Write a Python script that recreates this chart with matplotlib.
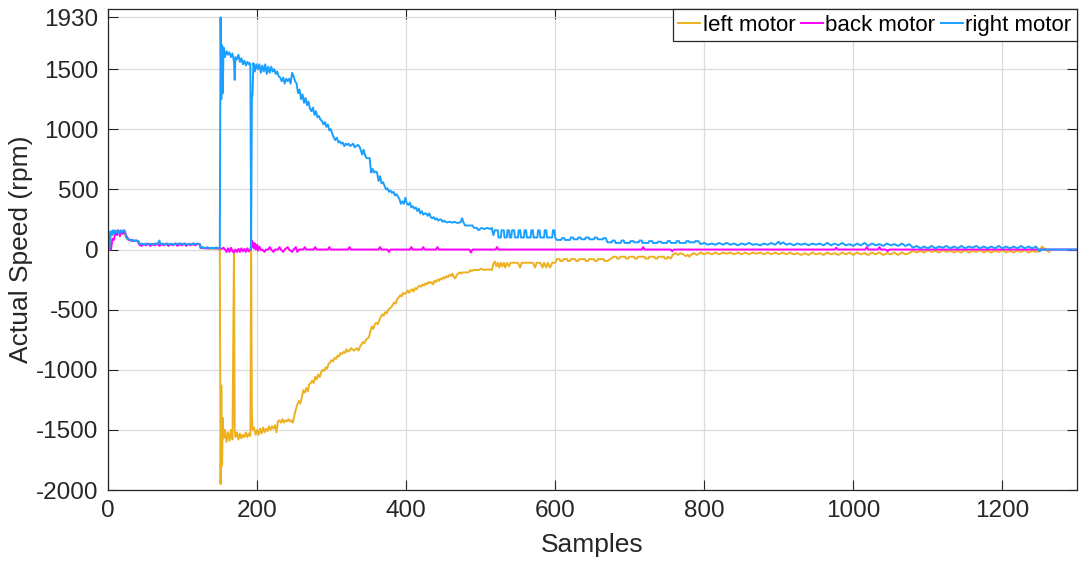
import matplotlib
matplotlib.use("Agg")
import matplotlib.pyplot as plt

plt.rcParams['font.family'] = ['Liberation Sans', 'DejaVu Sans']
plt.rcParams['axes.unicode_minus'] = False

# ---- data (sample, rpm) ----
right_motor = [(0,0),(2,0),(3,150),(5,120),(6,160),(8,130),(9,160),(11,140),(13,160),(15,130),(17,160),(19,145),(21,160),(23,150),(24,110),(26,90),(28,85),(30,75),(33,80),(36,70),(39,75),(41,70),(42,45),(45,50),(48,40),(51,50),(54,42),(57,48),(60,40),(63,50),(66,45),(69,75),(70,45),(73,50),(76,40),(79,50),(82,42),(85,48),(88,40),(91,50),(94,45),(97,52),(100,40),(103,50),(106,42),(109,48),(112,40),(115,50),(118,45),(121,50),(123,45),(124,15),(127,20),(130,10),(133,20),(136,10),(139,15),(142,8),(145,18),(148,10),(150,10),
 (151,1930),(152,1250),(153,1700),(154,1300),(155,1680),(157,1600),(159,1650),(161,1620),(163,1640),(165,1600),(167,1630),(169,1560),(170,1410),(171,1600),(173,1580),(175,1620),(177,1560),(179,1590),(181,1540),(183,1570),(185,1530),(187,1560),(189,1540),(190,1550),(191,1540),(192,0),(193,1250),(194,1300),(195,1550),(197,1480),(199,1540),(201,1500),(203,1540),(205,1470),(207,1530),(209,1480),(211,1540),(213,1460),(215,1520),(217,1470),(219,1520),(221,1480),(223,1500),(225,1460),(227,1480),(229,1440),(231,1430),(233,1400),(235,1430),(237,1380),(239,1420),(241,1400),(243,1420),(245,1380),(247,1470),(249,1440),(251,1400),(253,1380),(255,1300),(257,1330),(259,1250),(261,1290),(263,1220),(265,1260),(267,1200),(269,1230),(271,1170),(273,1150),(275,1180),(277,1120),(279,1150),(281,1100),(283,1110),(285,1080),(287,1070),(289,1040),(291,1060),(293,1020),(295,1040),(297,990),(299,1000),(301,960),(303,930),(305,910),(307,930),(309,890),(311,900),(313,880),(315,890),(317,860),(319,880),(321,870),(323,880),(325,860),(327,870),(329,880),(331,850),(333,860),(335,870),(337,860),(339,830),(341,790),(343,830),(345,780),(347,760),(349,760),(351,760),(353,640),(355,670),(357,640),(359,650),(361,640),(363,570),(365,610),(367,550),(369,560),(371,530),(373,500),(375,510),(377,480),(379,490),(381,470),(383,480),(385,450),(387,460),(389,440),(391,420),(393,380),(395,400),(397,380),(399,430),(401,380),(403,370),(405,390),(407,350),(409,360),(411,340),(413,350),(415,320),(417,340),(419,300),(421,320),(423,290),(425,300),(427,300),(429,280),(431,300),(433,270),(435,260),(437,270),(439,250),(441,260),(443,240),(445,250),(447,250),(449,230),(451,240),(453,230),(455,225),(457,230),(459,230),(461,225),(463,225),(465,230),(467,225),(469,220),(471,225),(473,225),(475,260),(477,225),(479,200),(483,200),(487,200),(489,200),(491,180),(495,180),(497,160),(501,180),(505,170),(509,180),(513,170),(515,180),(517,120),(519,160),(523,160),(524,100),(527,100),(528,160),(531,160),(532,100),(535,100),(536,160),(538,160),(539,100),(541,100),(542,160),(545,160),(546,100),(550,100),(551,160),(553,160),(554,100),(558,100),(559,160),(561,160),(562,100),(567,100),(568,160),(570,160),(571,100),(576,100),(577,160),(579,160),(580,100),(585,100),(586,160),(588,160),(589,100),(596,100),(597,160),(599,160),(600,100),(602,80),(608,80),(609,95),(612,95),(613,80),(620,80),(621,100),(624,100),(625,85),(630,85),(631,100),(634,100),(635,85),(640,85),(641,100),(645,100),(646,85),(652,85),(653,100),(656,100),(657,85),(664,85),(665,95),(668,95),(670,60),(676,60),(677,75),(680,75),(681,55),(688,55),(689,75),(692,75),(693,55),(700,55),(701,70),(705,70),(706,60),(712,60),(713,75),(716,75),(717,55),(725,55),(726,70),(730,70),(731,55),(737,55),(738,65),(742,65),(743,55),(750,55),(751,70),(754,70),(755,55),(762,55),(763,70),(766,70),(767,55),(775,55),(776,70),(779,70),(780,60),(787,60),(788,70),(792,70),(795,45),(800,55),(805,40),(810,50),(815,40),(820,55),(825,40),(830,55),(835,40),(840,50),(845,35),(850,50),(855,40),(860,55),(865,40),(870,45),(875,35),(880,50),(885,40),(890,55),(895,40),(900,65),(902,45),(906,60),(910,40),(915,50),(920,35),(925,50),(930,40),(935,50),(940,35),(945,50),(950,40),(955,50),(960,35),(965,55),(970,35),(975,50),(980,35),(985,55),(990,35),(995,45),(1000,30),(1005,50),(1010,35),(1015,55),(1020,30),(1025,50),(1030,35),(1035,45),(1040,30),(1045,50),(1050,35),(1055,45),(1060,30),(1065,50),(1070,30),(1075,45),(1080,15),(1085,30),(1090,10),(1095,25),(1100,10),(1105,30),(1110,10),(1115,25),(1120,15),(1125,30),(1130,10),(1135,25),(1140,10),(1145,30),(1150,10),(1155,25),(1160,15),(1165,30),(1170,10),(1175,25),(1180,10),(1185,25),(1190,10),(1195,30),(1200,10),(1205,25),(1210,10),(1215,25),(1220,10),(1225,30),(1230,10),(1235,25),(1240,10),(1245,25),(1250,-15),(1252,0),(1300,0)]

left_motor = [(0,0),(2,0),(4,140),(6,120),(8,150),(10,130),(12,155),(14,130),(16,150),(18,135),(20,155),(22,140),(24,100),(27,80),(30,75),(33,70),(36,75),(40,70),(42,45),(46,40),(50,48),(55,40),(60,48),(65,42),(70,48),(75,40),(80,48),(85,42),(90,48),(95,40),(100,48),(105,42),(110,48),(115,40),(120,48),(123,42),(124,10),(130,15),(135,5),(140,12),(145,5),(150,5),
 (151,-1950),(152,-1130),(153,-1800),(154,-1400),(155,-1570),(157,-1500),(159,-1600),(161,-1520),(163,-1590),(165,-1500),(167,-1580),(169,0),(170,-1500),(171,-1560),(173,-1520),(175,-1580),(177,-1530),(179,-1570),(181,-1540),(183,-1560),(185,-1520),(187,-1560),(189,-1530),(191,-1550),(192,0),(193,-1370),(194,-1500),(196,-1480),(198,-1540),(200,-1500),(202,-1540),(204,-1490),(206,-1530),(208,-1480),(210,-1520),(212,-1490),(214,-1510),(216,-1470),(218,-1500),(220,-1470),(222,-1490),(224,-1460),(226,-1520),(228,-1430),(230,-1420),(232,-1440),(234,-1410),(236,-1440),(238,-1420),(240,-1430),(242,-1410),(244,-1430),(246,-1420),(248,-1440),(250,-1380),(252,-1330),(254,-1290),(256,-1260),(258,-1280),(260,-1230),(262,-1170),(264,-1190),(266,-1150),(268,-1180),(270,-1120),(272,-1110),(274,-1090),(276,-1110),(278,-1060),(280,-1080),(282,-1040),(284,-1060),(286,-1020),(288,-1000),(290,-1010),(292,-980),(294,-990),(296,-950),(298,-940),(300,-920),(302,-930),(304,-900),(306,-910),(308,-880),(310,-890),(312,-860),(314,-870),(316,-850),(318,-860),(320,-830),(322,-850),(324,-840),(326,-820),(328,-830),(330,-840),(332,-830),(334,-820),(336,-840),(338,-810),(340,-790),(342,-770),(344,-780),(346,-750),(348,-740),(350,-730),(352,-680),(354,-640),(356,-660),(358,-620),(360,-610),(362,-620),(364,-590),(366,-560),(368,-540),(370,-550),(372,-520),(374,-530),(376,-500),(378,-490),(380,-480),(382,-460),(384,-440),(386,-450),(388,-410),(390,-400),(392,-380),(394,-390),(396,-360),(398,-370),(400,-360),(402,-340),(404,-360),(406,-340),(408,-330),(410,-350),(412,-320),(414,-330),(416,-310),(418,-300),(420,-310),(422,-290),(424,-300),(426,-280),(428,-290),(430,-270),(432,-280),(434,-270),(436,-290),(438,-260),(440,-270),(442,-250),(444,-260),(446,-240),(448,-250),(450,-230),(452,-240),(454,-220),(456,-230),(458,-210),(460,-220),(462,-200),(464,-230),(466,-240),(468,-210),(470,-200),(472,-190),(474,-200),(476,-190),(480,-190),(484,-190),(486,-170),(488,-180),(490,-170),(494,-170),(498,-170),(500,-160),(505,-170),(510,-165),(515,-170),(517,-120),(519,-100),(521,-140),(523,-110),(525,-150),(527,-110),(529,-140),(531,-110),(533,-150),(535,-110),(538,-140),(540,-110),(545,-110),(550,-110),(553,-150),(555,-110),(560,-110),(565,-110),(570,-110),(573,-150),(575,-110),(580,-110),(583,-150),(585,-110),(588,-150),(590,-110),(593,-150),(596,-110),(600,-110),(602,-80),(606,-80),(607,-95),(610,-95),(611,-80),(616,-80),(617,-95),(620,-95),(621,-80),(627,-80),(628,-95),(631,-95),(632,-80),(640,-80),(641,-95),(644,-95),(645,-80),(652,-80),(653,-95),(656,-95),(657,-80),(665,-80),(666,-95),(670,-95),(675,-75),(678,-60),(682,-60),(683,-75),(686,-75),(687,-60),(694,-60),(695,-75),(698,-75),(699,-60),(706,-60),(707,-75),(710,-75),(711,-60),(720,-60),(721,-75),(725,-75),(726,-60),(733,-60),(734,-75),(737,-75),(738,-60),(746,-60),(747,-75),(750,-75),(751,-60),(755,-75),(758,-40),(762,-30),(765,-45),(768,-30),(772,-40),(775,-55),(778,-45),(780,-60),(783,-40),(786,-30),(790,-45),(795,-25),(800,-40),(805,-25),(810,-40),(815,-25),(820,-40),(825,-25),(830,-35),(835,-25),(840,-40),(845,-25),(850,-40),(855,-25),(860,-40),(865,-25),(870,-35),(875,-25),(880,-40),(885,-25),(890,-40),(895,-25),(900,-40),(905,-25),(910,-40),(915,-25),(920,-40),(925,-30),(930,-45),(935,-30),(940,-45),(945,-25),(950,-40),(955,-30),(960,-45),(965,-25),(970,-40),(975,-30),(980,-45),(985,-25),(990,-40),(995,-25),(1000,-45),(1005,-25),(1010,-40),(1015,-30),(1020,-45),(1025,-25),(1030,-40),(1035,-25),(1040,-45),(1045,-30),(1050,-40),(1055,-25),(1060,-45),(1065,-25),(1070,-40),(1075,-30),(1080,-10),(1085,-25),(1090,-10),(1095,-25),(1100,-5),(1105,-20),(1110,-10),(1115,-25),(1120,-5),(1125,-20),(1130,-10),(1135,-25),(1140,-10),(1145,-25),(1150,-5),(1155,-25),(1160,-10),(1165,-20),(1170,-5),(1175,-25),(1180,-10),(1185,-25),(1190,-10),(1195,-20),(1200,-5),(1205,-25),(1210,-10),(1215,-25),(1220,-10),(1225,-20),(1230,-5),(1235,-25),(1240,-10),(1245,-20),(1250,-10),(1253,25),(1256,10),(1259,-5),(1263,-20)]

back_motor = [(0,0),(4,0),(6,90),(8,80),(10,150),(12,120),(14,160),(16,110),(18,155),(20,130),(22,160),(24,120),(26,100),(28,80),(31,80),(34,70),(37,75),(40,70),(42,40),(45,30),(48,45),(51,35),(54,50),(57,30),(60,45),(63,35),(66,50),(69,30),(72,45),(75,35),(78,50),(81,30),(84,45),(87,35),(90,50),(93,30),(96,45),(99,35),(102,50),(105,30),(108,45),(111,35),(114,50),(117,35),(120,45),(123,45),(125,15),(130,10),(135,12),(140,10),(145,12),(150,10),(152,5),(155,15),(157,0),(159,-20),(161,10),(163,-20),(165,15),(167,-15),(169,-25),(171,0),(173,-20),(175,5),(177,-20),(179,10),(181,-15),(183,5),(185,-20),(187,10),(189,-15),(191,0),(193,75),(194,20),(195,60),(196,10),(197,50),(198,0),(200,40),(201,-10),(203,25),(205,-5),(207,0),(210,-20),(212,0),(215,0),(217,20),(219,0),(222,-20),(224,0),(228,0),(230,20),(232,0),(235,-20),(237,0),(241,20),(243,0),(247,-20),(249,0),(252,20),(254,-20),(256,0),(262,0),(264,20),(266,0),(276,0),(278,20),(280,0),(295,0),(297,20),(299,0),(322,0),(324,20),(326,0),(363,0),(365,20),(367,0),(375,0),(377,-20),(379,0),(405,0),(407,20),(409,0),(421,0),(423,20),(425,0),(440,0),(442,20),(444,0),(485,0),(487,-25),(489,0),(520,0),(522,20),(524,0),(716,0),(718,20),(720,0),(755,0),(757,-15),(759,0),(975,0),(977,15),(979,0),(1016,0),(1018,20),(1020,0),(1033,0),(1035,20),(1037,0),(1044,0),(1046,-15),(1048,0),(1300,0)]

series_names = ['left motor', 'back motor', 'right motor']
series_colors = ['#EDB120', '#FF00FF', '#1A9FFF']
x_ticks = [0, 200, 400, 600, 800, 1000, 1200]
y_ticks = [-2000, -1500, -1000, -500, 0, 500, 1000, 1500, 1930]

fig = plt.figure(figsize=(10.79, 5.62), dpi=100)
ax = fig.add_axes([0.1001, 0.128, 0.898, 0.856])

for data, name, col in zip([left_motor, back_motor, right_motor], series_names, series_colors):
    xs = [p[0] for p in data]
    ys = [p[1] for p in data]
    ax.plot(xs, ys, color=col, lw=1.4, label=name)

ax.set_xlim(0, 1300)
ax.set_ylim(-2000, 2000)
ax.set_xticks(x_ticks)
ax.set_yticks(y_ticks)
ax.grid(True, color='#DCDCDC', lw=0.9)
ax.set_axisbelow(True)
ax.tick_params(direction='in', length=7, width=0.8, top=True, right=True,
               labelsize=17.5, colors='#262626', pad=7)
for s in ax.spines.values():
    s.set_color('#262626')
    s.set_linewidth(0.9)
ax.set_xlabel('Samples', fontsize=19, color='#262626', labelpad=8)
ax.set_ylabel('Actual Speed (rpm)', fontsize=19, color='#262626', labelpad=2)

leg = ax.legend(loc='upper right', bbox_to_anchor=(1.0, 1.0), ncol=3, fontsize=16,
                frameon=True, fancybox=False, edgecolor='#262626', framealpha=1,
                borderaxespad=0.0, borderpad=0.25, handlelength=1.0, handletextpad=0.1,
                columnspacing=0.25)
leg.get_frame().set_linewidth(0.9)

fig.savefig('out.png', dpi=100)
